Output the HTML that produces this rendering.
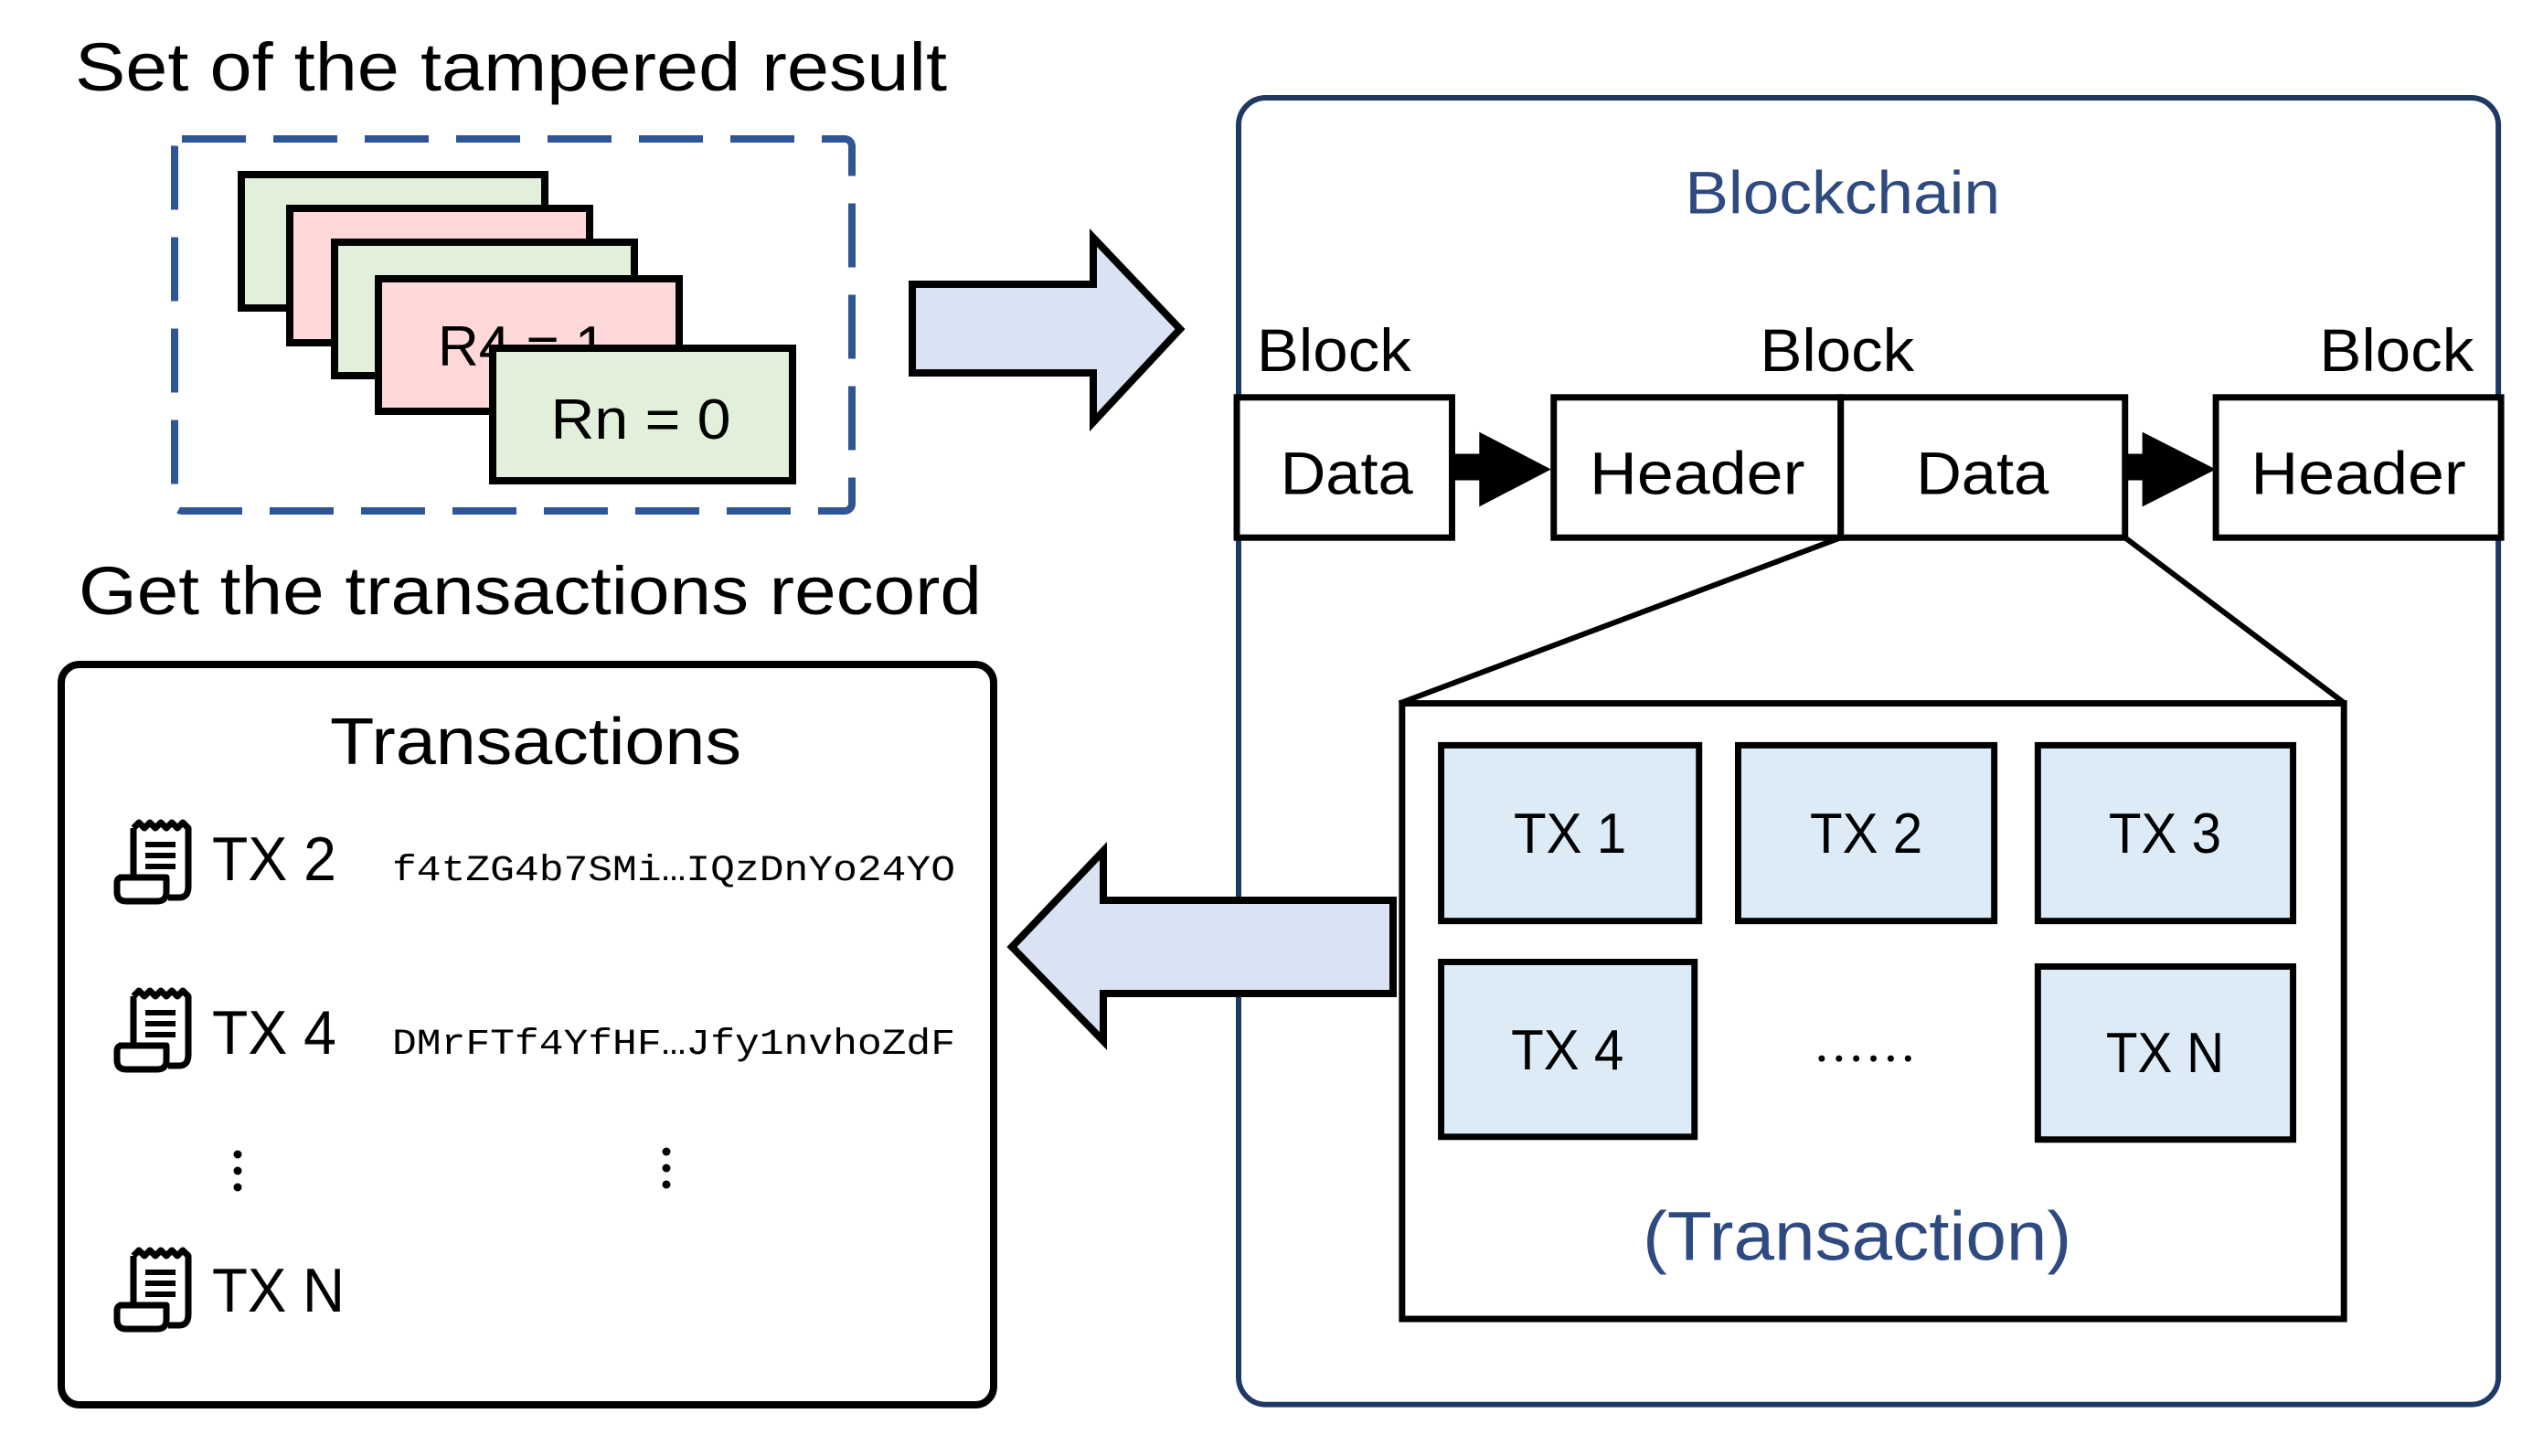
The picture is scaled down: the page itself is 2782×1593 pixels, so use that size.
<!DOCTYPE html>
<html><head><meta charset="utf-8"><style>html,body{margin:0;padding:0;background:#fff}svg{display:block}</style></head>
<body>
<svg xmlns="http://www.w3.org/2000/svg" width="2782" height="1593" viewBox="0 0 2782 1593" font-family="'Liberation Sans', sans-serif">
<defs>
<g id="rc" fill="none" stroke="#000" stroke-width="7" stroke-linejoin="round">
  <path d="M22 10 L28 4 L34 10 L40 4 L46 10 L52 4 L58 10 L64 4 L70 10 L76 4 L82 10 V74 Q82 86 72 86 H60"/>
  <path d="M22 10 V62"/>
  <path d="M6 64 H58 V80 Q58 90 48 90 H14 Q4 90 4 80 V70 Q4 64 10 64"/>
  <path d="M35 28 H68 M35 40 H68 M35 52 H68" stroke-width="6"/>
</g>
</defs>

<text x="82" y="99" font-size="74" textLength="954" lengthAdjust="spacingAndGlyphs">Set of the tampered result</text>

<rect x="191" y="152" width="741" height="407" rx="8" fill="none" stroke="#2F5597" stroke-width="8" stroke-dasharray="70,30"/>

<g stroke="#000" stroke-width="8">
<rect x="264" y="191" width="332" height="146" fill="#E2EFDA"/>
<rect x="317" y="228" width="328" height="147" fill="#FFD9D9"/>
<rect x="366" y="265" width="328" height="146" fill="#E2EFDA"/>
<rect x="414" y="305" width="329" height="145" fill="#FFD9D9"/>
</g>
<text x="479" y="400" font-size="62">R4 = 1</text>
<rect x="539" y="381" width="328" height="145" fill="#E2EFDA" stroke="#000" stroke-width="8"/>
<text x="701" y="480" font-size="62" text-anchor="middle" textLength="197" lengthAdjust="spacingAndGlyphs">Rn = 0</text>

<path d="M998 311 H1196 V260 L1291 360 L1196 462 V408 H998 Z" fill="#DAE3F3" stroke="#000" stroke-width="8" stroke-linejoin="miter"/>

<text x="86" y="672" font-size="74" textLength="988" lengthAdjust="spacingAndGlyphs">Get the transactions record</text>

<rect x="67" y="727" width="1020" height="810" rx="20" fill="none" stroke="#000" stroke-width="8"/>
<text x="586" y="836" font-size="72" text-anchor="middle" textLength="450" lengthAdjust="spacingAndGlyphs">Transactions</text>

<use href="#rc" transform="translate(124,896)"/>
<text x="232" y="963" font-size="68" textLength="136" lengthAdjust="spacingAndGlyphs">TX 2</text>
<text x="429" y="963" font-size="40" font-family="'Liberation Mono', monospace" textLength="616" lengthAdjust="spacingAndGlyphs">f4tZG4b7SMi…IQzDnYo24YO</text>

<use href="#rc" transform="translate(124,1080)"/>
<text x="232" y="1153" font-size="68" textLength="136" lengthAdjust="spacingAndGlyphs">TX 4</text>
<text x="429" y="1153" font-size="40" font-family="'Liberation Mono', monospace" textLength="616" lengthAdjust="spacingAndGlyphs">DMrFTf4YfHF…Jfy1nvhoZdF</text>

<g fill="#000"><circle cx="260" cy="1263" r="4.5"/><circle cx="260" cy="1281" r="4.5"/><circle cx="260" cy="1299" r="4.5"/>
<circle cx="729" cy="1260" r="4.5"/><circle cx="729" cy="1278" r="4.5"/><circle cx="729" cy="1296" r="4.5"/></g>

<use href="#rc" transform="translate(124,1364)"/>
<text x="232" y="1435" font-size="68" textLength="145" lengthAdjust="spacingAndGlyphs">TX N</text>

<g transform="matrix(0.9936,0,0,0.9963,4.7,0.4)">
<rect x="1359" y="107" width="1387" height="1435" rx="30" fill="none" stroke="#1F3864" stroke-width="6"/>
<text x="2024" y="234" font-size="66" fill="#2F4A80" text-anchor="middle" textLength="347" lengthAdjust="spacingAndGlyphs">Blockchain</text>

<g font-size="66">
<text x="1379" y="407" textLength="170" lengthAdjust="spacingAndGlyphs">Block</text>
<text x="1933" y="407" textLength="170" lengthAdjust="spacingAndGlyphs">Block</text>
<text x="2549" y="407" textLength="170" lengthAdjust="spacingAndGlyphs">Block</text>
</g>
<g fill="#fff" stroke="#000" stroke-width="7">
<rect x="1357" y="436" width="237" height="154"/>
<rect x="1706" y="436" width="316" height="154"/>
<rect x="2022" y="436" width="313" height="154"/>
<rect x="2435" y="436" width="314" height="154"/>
</g>
<g font-size="66" text-anchor="middle">
<text x="1478" y="542" textLength="146" lengthAdjust="spacingAndGlyphs">Data</text>
<text x="1864" y="542" textLength="237" lengthAdjust="spacingAndGlyphs">Header</text>
<text x="2178" y="542" textLength="146" lengthAdjust="spacingAndGlyphs">Data</text>
<text x="2592" y="542" textLength="237" lengthAdjust="spacingAndGlyphs">Header</text>
</g>
<path d="M1594 498 H1624 V474 L1703 515 L1624 556 V527 H1594 Z" fill="#000"/>
<path d="M2335 498 H2354 V474 L2435 515 L2354 556 V527 H2335 Z" fill="#000"/>

<path d="M2022 590 L1536 772 M2335 590 L2577 772" stroke="#000" stroke-width="6" fill="none"/>
<rect x="1539" y="772" width="1037" height="676" fill="#fff" stroke="#000" stroke-width="7"/>

<g fill="#DDEBF7" stroke="#000" stroke-width="7">
<rect x="1582" y="818" width="284" height="193"/>
<rect x="1909" y="818" width="282" height="193"/>
<rect x="2239" y="818" width="281" height="193"/>
<rect x="1582" y="1056" width="279" height="192"/>
<rect x="2239" y="1061" width="281" height="190"/>
</g>
<g font-size="62" text-anchor="middle">
<text x="1724" y="936" textLength="124" lengthAdjust="spacingAndGlyphs">TX 1</text>
<text x="2050" y="936" textLength="124" lengthAdjust="spacingAndGlyphs">TX 2</text>
<text x="2379" y="936" textLength="124" lengthAdjust="spacingAndGlyphs">TX 3</text>
<text x="1721" y="1174" textLength="124" lengthAdjust="spacingAndGlyphs">TX 4</text>
<text x="2379" y="1177" textLength="130" lengthAdjust="spacingAndGlyphs">TX N</text>
</g>
<g fill="#000"><circle cx="2001" cy="1162" r="3.5"/><circle cx="2020" cy="1162" r="3.5"/><circle cx="2039" cy="1162" r="3.5"/><circle cx="2058" cy="1162" r="3.5"/><circle cx="2077" cy="1162" r="3.5"/><circle cx="2096" cy="1162" r="3.5"/></g>
<text x="2040" y="1383" font-size="76" fill="#2F4A80" text-anchor="middle" textLength="472" lengthAdjust="spacingAndGlyphs">(Transaction)</text>
</g>

<path d="M1524 985 H1207 V931 L1107 1036 L1207 1139 V1087 H1524 Z" fill="#DAE3F3" stroke="#000" stroke-width="8"/>
</svg>
</body></html>
